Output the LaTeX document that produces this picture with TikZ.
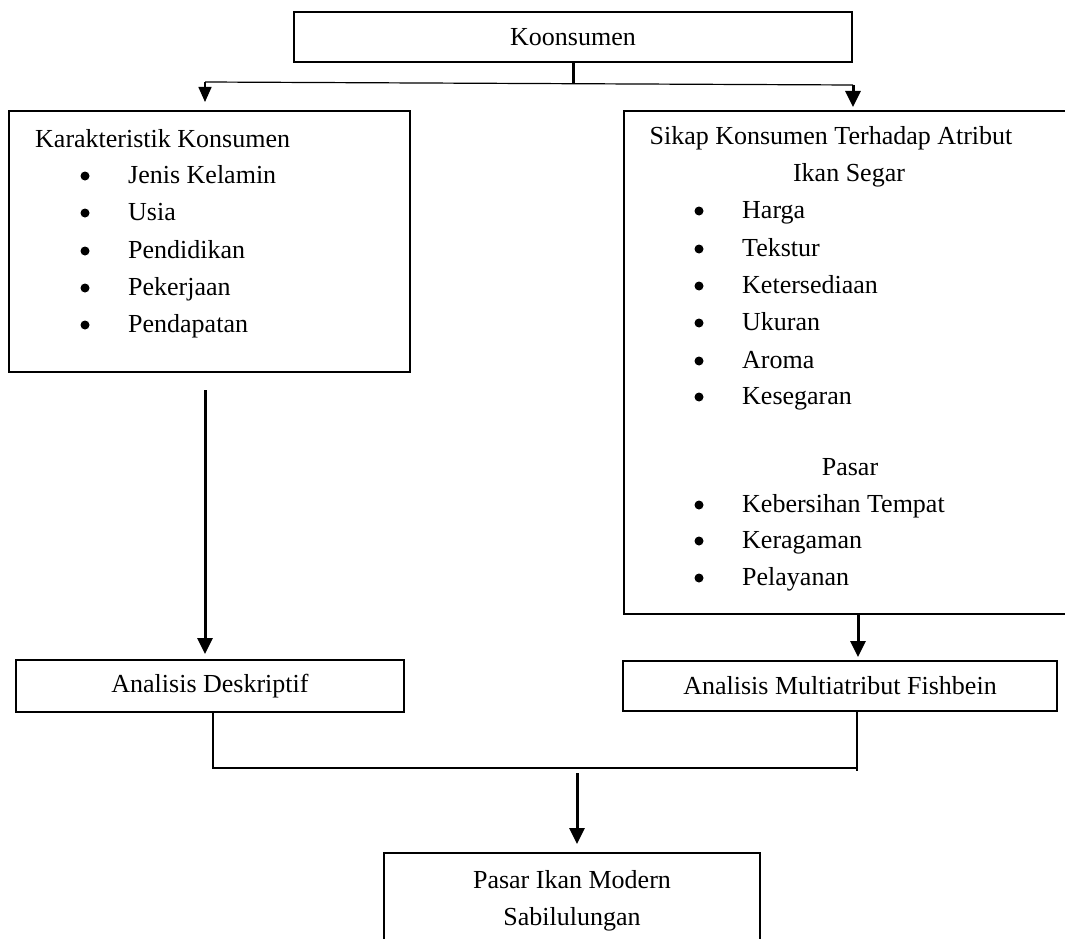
\documentclass[tikz,border=0pt]{standalone}
\usepackage{fontspec}
\setmainfont{Liberation Serif}
\usetikzlibrary{arrows.meta}
\begin{document}
\begin{tikzpicture}[x=1pt,y=-1pt,
  every node/.style={font=\fontsize{26}{30}\selectfont, inner sep=0pt},
  box/.style={draw, line width=2pt, rectangle},
  thin/.style={line width=1.2pt},
  thickarr/.style={line width=3pt, -{Triangle[width=15pt,length=16pt]}},
  thinarr/.style={line width=1.5pt, -{Triangle[width=13pt,length=15pt]}},
  item/.style={anchor=base west},
  bul/.style={circle, fill=black, minimum size=9pt, yshift=7pt}
]
\useasboundingbox (0,0) rectangle (1065,939);
% boxes
\node[box, minimum width=558pt, minimum height=50pt] (top) at (573,37) {Koonsumen};
\node[box, minimum width=401pt, minimum height=261pt] (lbox) at (209.5,241.5) {};
\node[box, minimum width=456pt, minimum height=503pt] (rbox) at (852,362.5) {};
\node[box, minimum width=388pt, minimum height=52pt] (ad) at (210,686) {Analisis Deskriptif};
\node[box, minimum width=434pt, minimum height=50pt] (am) at (840,686) {Analisis Multiatribut Fishbein};
\node[box, minimum width=376pt, minimum height=110pt] (bot) at (572,908) {};
% left box text
\node[item] (lt) at (35,147) {Karakteristik Konsumen};
\node[bul] (lb1) at (85,183) {};
\node[item] (li1) at (128,183) {Jenis Kelamin};
\node[bul] (lb2) at (85,220) {};
\node[item] (li2) at (128,220) {Usia};
\node[bul] (lb3) at (85,258) {};
\node[item] (li3) at (128,258) {Pendidikan};
\node[bul] (lb4) at (85,295) {};
\node[item] (li4) at (128,295) {Pekerjaan};
\node[bul] (lb5) at (85,332) {};
\node[item] (li5) at (128,332) {Pendapatan};
% right box text
\node[anchor=base] (rt1) at (831,145) {Sikap Konsumen Terhadap Atribut};
\node[anchor=base] (rt2) at (849,181) {Ikan Segar};
\node[bul] (rb1) at (699,218) {};
\node[item] (ri1) at (742,218) {Harga};
\node[bul] (rb2) at (699,256) {};
\node[item] (ri2) at (742,256) {Tekstur};
\node[bul] (rb3) at (699,293) {};
\node[item] (ri3) at (742,293) {Ketersediaan};
\node[bul] (rb4) at (699,330) {};
\node[item] (ri4) at (742,330) {Ukuran};
\node[bul] (rb5) at (699,368) {};
\node[item] (ri5) at (742,368) {Aroma};
\node[bul] (rb6) at (699,404) {};
\node[item] (ri6) at (742,404) {Kesegaran};
\node[anchor=base] (rp) at (850,475) {Pasar};
\node[bul] (rb7) at (699,512) {};
\node[item] (ri7) at (742,512) {Kebersihan Tempat};
\node[bul] (rb8) at (699,548) {};
\node[item] (ri8) at (742,548) {Keragaman};
\node[bul] (rb9) at (699,585) {};
\node[item] (ri9) at (742,585) {Pelayanan};
% bottom box text
\node[anchor=base] (bt1) at (572,888) {Pasar Ikan Modern};
\node[anchor=base] (bt2) at (572,925) {Sabilulungan};
% connectors
\coordinate (hl) at (205,82);
\coordinate (hr) at (853,85);
\draw[line width=3pt] (top.south) -- ++(0,21);
\draw[thin] (hl) -- (hr);
\draw[thinarr, shorten >=8pt] (hl) -- (hl |- lbox.north);
\draw[thickarr, shorten >=3pt] (hr) -- (hr |- rbox.north);
\coordinate (la) at (205,390);
\draw[thickarr, shorten >=5pt] (la) -- (la |- ad.north);
\coordinate (ra) at (858,614);
\draw[thickarr, shorten >=3pt] (ra) -- (ra |- am.north);
\coordinate (jl) at (213,768);
\coordinate (jr) at (857,768);
\draw[thin] (ad.south -| jl) -- (jl) -- (jr);
\draw[thin] (am.south -| jr) -- ++(0,59);
\coordinate (ba) at (577,773);
\draw[thickarr, shorten >=8pt] (ba) -- (ba |- bot.north);
\end{tikzpicture}
\end{document}
